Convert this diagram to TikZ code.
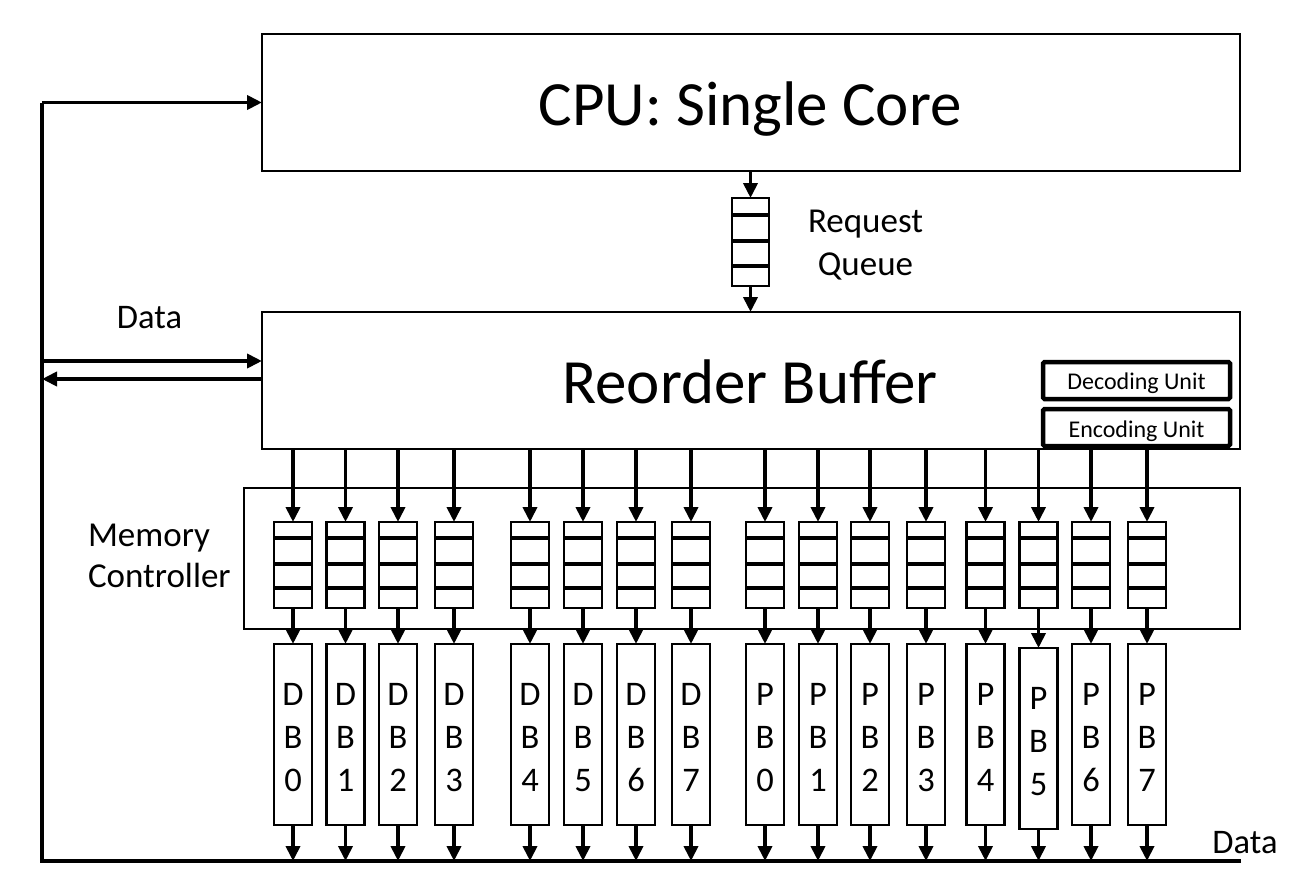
\documentclass[tikz,border=0pt]{standalone}
\usepackage{fontspec}
\setmainfont{Carlito}
\usetikzlibrary{arrows.meta}
\begin{document}
\begin{tikzpicture}[x=1pt,y=-1pt,
  box/.style={draw,line width=2.3pt,inner sep=0pt,outer sep=0pt},
  unitbox/.style={draw,line width=4.5pt,inner sep=0pt,outer sep=0pt,rounded corners=1.5pt,minimum width=187pt,minimum height=37pt},
  que/.style={box,fill=white,line width=2.8pt,minimum width=38pt,minimum height=86pt},
  bank/.style={box,fill=white,line width=2.6pt,minimum width=38pt,minimum height=181pt},
  qline/.style={line width=4.5pt},
  arr/.style={line width=3.8pt,-{Triangle[length=15pt,width=14pt]}},
  txt/.style={inner sep=0pt,outer sep=0pt,anchor=base},
  big/.style={txt,font=\fontsize{63}{75}\selectfont},
  mid/.style={txt,font=\fontsize{35}{42}\selectfont},
  lbl/.style={txt,font=\fontsize{34.5}{40}\selectfont},
  small/.style={txt,font=\fontsize{24}{28}\selectfont}
]
\useasboundingbox (0,0) rectangle (1305,889);

% main blocks
\node[box,minimum width=978pt,minimum height=137pt] (cpu) at (751,102.5) {};
\node[big] (cputxt) at (750,125) {CPU: Single Core};

\node[box,minimum width=978pt,minimum height=137pt] (rob) at (751,380.5) {};
\node[big] (robtxt) at (750,403) {Reorder Buffer};

\node[unitbox] (dec) at (1136.5,380.5) {};
\node[small] (dectxt) at (1136.5,389) {Decoding Unit};
\node[unitbox] (enc) at (1136.5,427.5) {};
\node[small] (enctxt) at (1136.5,437) {Encoding Unit};

% request queue
\node[que,minimum width=37pt,minimum height=88pt] (rq) at (750.5,242) {};
\foreach \yy in {215,241,266}{
  \draw[qline] (rq.west |- 0,\yy) -- (rq.east |- 0,\yy);
}
\draw[arr] (rq.north |- cpu.south) -- (rq.north);
\draw[arr] (rq.south) -- (rq.south |- rob.north);
\node[mid] (rqt1) at (865.5,232) {Request};
\node[mid] (rqt2) at (865.5,275) {Queue};

% memory controller
\node[box,minimum width=996pt,minimum height=141pt] (mc) at (742,558.5) {};
\node[mid,anchor=base west] (mct1) at (88,546) {Memory};
\node[mid,anchor=base west] (mct2) at (88,587) {Controller};

% bus and feedback
\coordinate (busL) at (42,861);
\coordinate (busR) at (1241,861);
\draw[line width=4.5pt] (busR) -- (busL) -- (busL |- cpu.west);
\draw[arr] (busL |- cpu.west) -- (cpu.west);
\coordinate (d1) at (42,361);
\coordinate (d2) at (42,379);
\draw[arr] (d1) -- (d1 -| rob.west);
\draw[arr] (d2 -| rob.west) -- (d2);
\node[lbl] (datal) at (149.5,328) {Data};
\node[lbl] (datar) at (1245,853) {Data};

% queues and banks
\foreach \i/\x/\a/\d/\dy in {0/293/D/0/0,1/345.5/D/1/0,2/398/D/2/0,3/454/D/3/0,
  4/530/D/4/0,5/583/D/5/0,6/636/D/6/0,7/691/D/7/0,
  8/765/P/0/0,9/818/P/1/0,10/870/P/2/0,11/926/P/3/0,
  12/985.5/P/4/0,13/1038.5/P/5/4,14/1091/P/6/0,15/1147/P/7/0}{
  \node[que] (q\i) at (\x,565) {};
  \foreach \yy in {538,564,588}{
    \draw[qline] (q\i.west |- 0,\yy) -- (q\i.east |- 0,\yy);
  }
  \node[bank] (b\i) at (\x,{734.5+\dy}) {};
  \node[lbl] (b\i a) at (\x,{705+\dy}) {\a};
  \node[lbl] (b\i b) at (\x,{748+\dy}) {B};
  \node[lbl] (b\i c) at (\x,{791+\dy}) {\d};
  \draw[arr] (q\i.north |- rob.south) -- (q\i.north);
  \draw[arr] (q\i.south) -- (b\i.north);
  \draw[arr] (b\i.south) -- (b\i.south |- busL);
}
\end{tikzpicture}
\end{document}
